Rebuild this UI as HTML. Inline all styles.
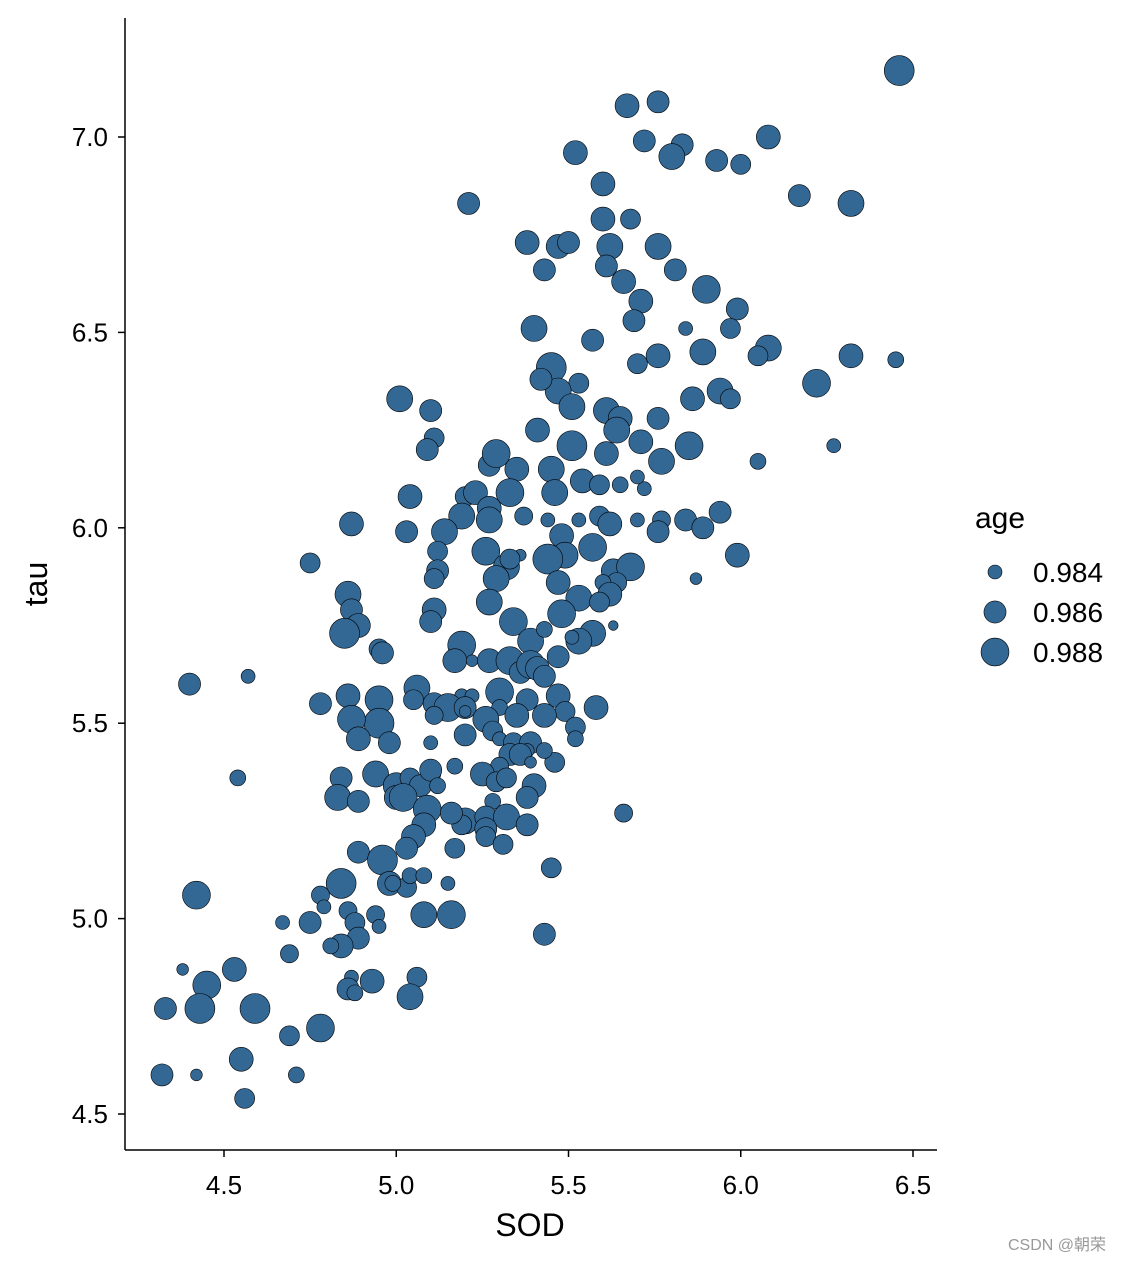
<!DOCTYPE html>
<html><head><meta charset="utf-8"><style>
body{margin:0;background:#fff}
svg text{font-family:"Liberation Sans",Arial,sans-serif}
</style></head><body>
<svg id="chart" width="1134" height="1262" xmlns="http://www.w3.org/2000/svg">
<rect width="1134" height="1262" fill="#fff"/>
<g id="points"></g>
<g id="axes"></g>
<text x="530" y="1236" font-size="32" text-anchor="middle">SOD</text>
<text transform="translate(47,584) rotate(-90)" font-size="32" text-anchor="middle">tau</text>
<g id="legend">
<text x="975" y="528" font-size="30">age</text>
</g>
<text x="1008" y="1250" font-size="16" fill="#999" font-family="Liberation Sans, Noto Sans CJK SC, sans-serif">CSDN @朝荣</text>
</svg>
<script>
const sod=[6.46,5.67,5.76,6.08,5.72,5.83,5.80,5.93,6.00,5.52,5.60,5.21,6.17,6.32,5.60,5.68,5.38,5.47,5.50,5.62,5.76,5.61,5.43,5.81,5.66,5.90,5.71,5.99,5.69,5.84,5.97,5.40,5.57,5.89,6.08,6.05,5.70,5.76,6.32,6.45,5.45,5.53,5.94,6.22,5.47,5.42,5.01,5.10,5.86,5.97,5.51,5.61,5.65,5.76,5.64,5.41,5.51,5.11,5.09,5.85,5.61,5.71,6.27,5.77,6.05,5.27,5.29,5.35,5.45,5.54,5.59,5.72,5.65,5.70,5.20,5.23,5.33,5.46,5.27,5.04,5.19,5.37,5.27,5.59,5.62,5.94,4.87,5.14,5.44,5.53,5.70,5.77,5.84,5.76,5.89,5.03,5.48,5.12,5.26,5.36,5.57,5.32,5.49,5.44,5.33,5.99,5.63,5.68,5.12,4.75,5.11,5.29,5.47,5.64,5.87,5.60,5.62,4.86,4.87,5.53,5.27,5.11,5.48,5.34,5.59,5.10,4.89,5.57,5.63,4.85,5.39,5.43,5.19,5.53,5.51,4.95,4.96,5.17,4.57,4.40,5.22,5.27,5.33,5.36,5.39,5.41,5.47,5.43,5.06,4.86,4.78,4.95,5.05,5.11,5.19,5.15,5.22,5.30,5.38,5.20,5.30,5.47,5.58,5.49,5.11,5.20,5.26,5.35,5.43,4.95,4.87,4.89,4.98,5.10,5.20,5.28,5.30,5.34,5.39,5.38,5.52,5.52,5.33,5.36,5.46,5.30,5.39,5.43,5.17,4.84,4.54,4.94,5.00,5.04,5.10,5.07,5.10,5.12,5.25,5.29,5.32,5.40,5.00,5.02,4.83,4.89,5.38,5.28,5.09,5.20,5.26,5.32,5.19,5.16,5.38,5.08,5.05,5.26,5.03,5.26,5.31,5.17,5.66,4.89,4.96,4.98,5.03,5.04,5.08,4.84,4.78,4.42,4.99,5.45,5.15,4.79,4.86,4.94,5.08,5.16,4.75,4.67,4.88,4.95,4.89,5.43,4.84,4.81,4.69,5.06,4.53,4.38,4.45,4.87,4.93,4.86,4.88,5.04,4.43,4.59,4.33,4.78,4.69,4.55,4.32,4.42,4.71,4.56];
const tau=[7.17,7.08,7.09,7.00,6.99,6.98,6.95,6.94,6.93,6.96,6.88,6.83,6.85,6.83,6.79,6.79,6.73,6.72,6.73,6.72,6.72,6.67,6.66,6.66,6.63,6.61,6.58,6.56,6.53,6.51,6.51,6.51,6.48,6.45,6.46,6.44,6.42,6.44,6.44,6.43,6.41,6.37,6.35,6.37,6.35,6.38,6.33,6.30,6.33,6.33,6.31,6.30,6.28,6.28,6.25,6.25,6.21,6.23,6.20,6.21,6.19,6.22,6.21,6.17,6.17,6.16,6.19,6.15,6.15,6.12,6.11,6.10,6.11,6.13,6.08,6.09,6.09,6.09,6.05,6.08,6.03,6.03,6.02,6.03,6.01,6.04,6.01,5.99,6.02,6.02,6.02,6.02,6.02,5.99,6.00,5.99,5.98,5.94,5.94,5.93,5.95,5.90,5.93,5.92,5.92,5.93,5.89,5.90,5.89,5.91,5.87,5.87,5.86,5.86,5.87,5.86,5.83,5.83,5.79,5.82,5.81,5.79,5.78,5.76,5.81,5.76,5.75,5.73,5.75,5.73,5.71,5.74,5.70,5.71,5.72,5.69,5.68,5.66,5.62,5.60,5.66,5.66,5.66,5.63,5.65,5.64,5.67,5.62,5.59,5.57,5.55,5.56,5.56,5.55,5.57,5.54,5.57,5.58,5.56,5.54,5.54,5.57,5.54,5.53,5.52,5.53,5.51,5.52,5.52,5.50,5.51,5.46,5.45,5.45,5.47,5.48,5.46,5.45,5.45,5.43,5.49,5.46,5.42,5.42,5.40,5.39,5.40,5.43,5.39,5.36,5.36,5.37,5.34,5.36,5.37,5.34,5.38,5.34,5.37,5.35,5.36,5.34,5.31,5.31,5.31,5.30,5.31,5.30,5.28,5.25,5.26,5.26,5.24,5.27,5.24,5.24,5.21,5.23,5.18,5.21,5.19,5.18,5.27,5.17,5.15,5.09,5.08,5.11,5.11,5.09,5.06,5.06,5.09,5.13,5.09,5.03,5.02,5.01,5.01,5.01,4.99,4.99,4.99,4.98,4.95,4.96,4.93,4.93,4.91,4.85,4.87,4.87,4.83,4.85,4.84,4.82,4.81,4.80,4.77,4.77,4.77,4.72,4.70,4.64,4.60,4.60,4.60,4.54];
const age=[.9888,.9866,.9860,.9866,.9860,.9860,.9873,.9860,.9854,.9866,.9866,.9860,.9860,.9873,.9866,.9854,.9866,.9866,.9860,.9873,.9873,.9860,.9860,.9860,.9866,.9880,.9866,.9860,.9860,.9840,.9854,.9873,.9860,.9873,.9873,.9854,.9854,.9866,.9866,.9844,.9888,.9854,.9873,.9880,.9873,.9860,.9873,.9860,.9866,.9854,.9873,.9873,.9866,.9860,.9873,.9866,.9888,.9854,.9860,.9880,.9866,.9866,.9840,.9873,.9844,.9860,.9880,.9866,.9873,.9866,.9854,.9840,.9844,.9840,.9854,.9866,.9880,.9873,.9866,.9866,.9873,.9849,.9873,.9854,.9866,.9860,.9866,.9873,.9840,.9840,.9840,.9849,.9860,.9860,.9860,.9860,.9866,.9854,.9880,.9836,.9880,.9873,.9873,.9888,.9854,.9866,.9866,.9880,.9860,.9854,.9854,.9873,.9866,.9854,.9836,.9844,.9866,.9873,.9860,.9873,.9873,.9866,.9880,.9880,.9854,.9860,.9866,.9873,.9833,.9888,.9873,.9844,.9880,.9873,.9840,.9854,.9860,.9866,.9840,.9860,.9836,.9866,.9880,.9860,.9880,.9866,.9860,.9860,.9873,.9866,.9860,.9880,.9854,.9860,.9840,.9880,.9840,.9880,.9860,.9860,.9844,.9866,.9866,.9854,.9849,.9836,.9873,.9866,.9866,.9888,.9880,.9866,.9860,.9840,.9860,.9854,.9840,.9854,.9860,.9840,.9854,.9844,.9860,.9860,.9854,.9849,.9836,.9844,.9844,.9860,.9844,.9873,.9873,.9854,.9854,.9860,.9860,.9844,.9866,.9854,.9854,.9866,.9866,.9880,.9873,.9860,.9860,.9844,.9880,.9873,.9860,.9873,.9854,.9860,.9860,.9866,.9866,.9860,.9860,.9854,.9854,.9854,.9849,.9860,.9888,.9866,.9854,.9844,.9844,.9888,.9849,.9880,.9844,.9854,.9840,.9840,.9849,.9849,.9873,.9880,.9860,.9840,.9854,.9840,.9860,.9860,.9866,.9844,.9849,.9854,.9866,.9836,.9880,.9840,.9866,.9860,.9844,.9873,.9888,.9888,.9860,.9880,.9854,.9866,.9860,.9836,.9844,.9854];
const xTicks=[4.5,5.0,5.5,6.0,6.5];
const yTicks=[4.5,5.0,5.5,6.0,6.5,7.0];
const legendAges=[0.984,0.986,0.988];
const xLabels=["4.5","5.0","5.5","6.0","6.5"];
const yLabels=["4.5","5.0","5.5","6.0","6.5","7.0"];

const NS="http://www.w3.org/2000/svg";
function xS(v){return 224+(v-4.5)*344.5;}
function yS(v){return 1114-(v-4.5)*390.8;}
function rS(a){return Math.sqrt(Math.max(9,49+(a-0.984)*36500));}
function mk(t,attrs,parent){const e=document.createElementNS(NS,t);for(const k in attrs)e.setAttribute(k,attrs[k]);parent.appendChild(e);return e;}

const pts=document.getElementById('points');
for(let i=0;i<sod.length;i++){
  const c=mk('circle',{cx:xS(sod[i]),cy:yS(tau[i]),r:rS(age[i]),fill:'#336794',stroke:'#000','stroke-width':0.6},pts);
  
  
}
const ax=document.getElementById('axes');
const yl=mk('line',{x1:125,y1:18,x2:125,y2:1150,stroke:'#000','stroke-width':1.5},ax);


const xl=mk('line',{x1:125,y1:1150,x2:937,y2:1150,stroke:'#000','stroke-width':1.5},ax);


xTicks.forEach((v,i)=>{
  const t=mk('line',{x1:xS(v),y1:1150,x2:xS(v),y2:1157,stroke:'#000','stroke-width':1.5},ax);
  
  
  const l=mk('text',{x:xS(v),y:1194,'font-size':26,'text-anchor':'middle',fill:'#000'},ax);
  l.textContent=xLabels[i];
  
  
});
yTicks.forEach((v,i)=>{
  const t=mk('line',{x1:118,y1:yS(v),x2:125,y2:yS(v),stroke:'#000','stroke-width':1.5},ax);
  
  
  const l=mk('text',{x:108,y:yS(v)+9,'font-size':26,'text-anchor':'end',fill:'#000'},ax);
  l.textContent=yLabels[i];
  
  
});
const lg=document.getElementById('legend');
legendAges.forEach((a,i)=>{
  const cy=572+i*40;
  const c=mk('circle',{cx:995,cy:cy,r:rS(a),fill:'#336794',stroke:'#000','stroke-width':0.6},lg);
  
  
  const t=mk('text',{x:1033,y:cy+10,'font-size':28,fill:'#000'},lg);
  t.textContent=a.toFixed(3);
  
  
});
</script>
</body></html>
